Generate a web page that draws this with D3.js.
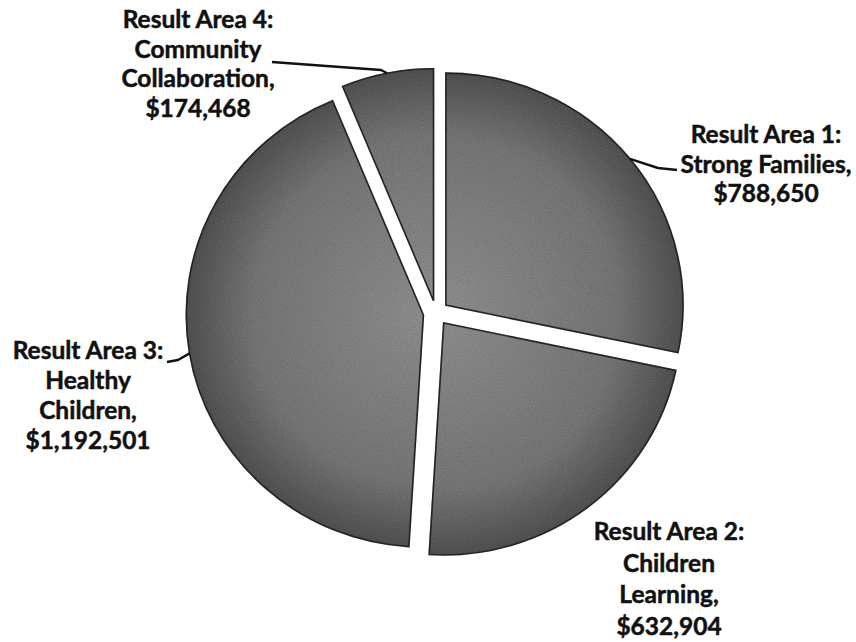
<!DOCTYPE html>
<html><head><meta charset="utf-8">
<script src="https://cdn.jsdelivr.net/npm/d3@7"></script>
<style>
html,body{margin:0;padding:0;background:#fff;}
svg{display:block;}
</style></head>
<body>
<svg id="chart" width="856" height="642"></svg>
<script>
// ---- data ----
const categories = ["Result Area 1:", "Result Area 2:", "Result Area 3:", "Result Area 4:"];
const names = [["Strong Families,"], ["Children", "Learning,"], ["Healthy", "Children,"], ["Community", "Collaboration,"]];
const values = [788650, 632904, 1192501, 174468];

// ---- layout ----
const W = 856, H = 642;
const cx = 436, cy = 313, R = 232, explode = 12.5, sx = 1.022;
const fontSize = 24.5;
// label block: [center x, first baseline y, line height]
const labelPos = [[766, 143, 29.5], [669, 540, 31.5], [88, 359, 30], [198, 28, 29.5]];

const svg = d3.select("#chart");
const defs = svg.append("defs");
const grad = defs.append("radialGradient").attr("id","g").attr("gradientUnits","userSpaceOnUse")
  .attr("cx",0).attr("cy",0).attr("r",R);
grad.append("stop").attr("offset","0%").attr("stop-color","#989898");
grad.append("stop").attr("offset","72%").attr("stop-color","#7f7f7f");
grad.append("stop").attr("offset","100%").attr("stop-color","#585858");
const f = defs.append("filter").attr("id","grain").attr("x","-10%").attr("y","-10%").attr("width","120%").attr("height","120%");
f.append("feTurbulence").attr("type","fractalNoise").attr("baseFrequency",0.9).attr("numOctaves",2).attr("seed",3).attr("result","n");
f.append("feColorMatrix").attr("in","n").attr("type","matrix")
  .attr("values","0 0 0 0 0  0 0 0 0 0  0 0 0 0 0  0 0 0 0.4 0").attr("result","a");
f.append("feComposite").attr("in","a").attr("in2","SourceGraphic").attr("operator","in").attr("result","m");
f.append("feMerge").selectAll("feMergeNode").data(["SourceGraphic","m"]).join("feMergeNode").attr("in",d=>d);

const pie = d3.pie().sort(null).value(d => d)(values);
const arc = d3.arc().innerRadius(0).outerRadius(R);

const g = svg.append("g").attr("transform", `translate(${cx},${cy}) scale(${sx},1)`);
const off = d => { const a = (d.startAngle + d.endAngle) / 2; return [explode * Math.sin(a), -explode * Math.cos(a)]; };
g.selectAll("path.slice").data(pie).join("path").attr("class","slice")
  .attr("transform", d => `translate(${off(d)})`)
  .attr("d", arc)
  .attr("fill","url(#g)")
  .attr("stroke","#2a2a2a").attr("stroke-width",1.6)
  .attr("filter","url(#grain)");

// leader lines from arc bisector points
function edgePt(d) {
  const a = (d.startAngle + d.endAngle) / 2; const o = off(d);
  return [cx + sx * (o[0] + R * Math.sin(a)), cy + o[1] - R * Math.cos(a)];
}
const leaders = [
  [[658,168],[677,170]],
  null,
  [[178,360],[167,362]],
  [[381,70],[272,62]]
];
pie.forEach((d,i) => {
  if (!leaders[i]) return;
  const pts = [edgePt(d), ...leaders[i]];
  svg.append("path").attr("d", d3.line()(pts)).attr("fill","none")
    .attr("stroke","#111").attr("stroke-width",2.4).attr("stroke-linejoin","round");
});

// labels
pie.forEach((d,i) => {
  const lines = [categories[i], ...names[i], "$" + d3.format(",")(values[i])];
  const t = svg.append("text").attr("text-anchor","middle")
    .attr("font-family","Lato, 'Open Sans', sans-serif").attr("font-weight",700)
    .attr("font-size",fontSize).attr("fill","#111")
    .attr("stroke","#111").attr("stroke-width",0.5);
  lines.forEach((l,k) => t.append("tspan").attr("x",labelPos[i][0]).attr("y",labelPos[i][1] + k*labelPos[i][2]).text(l));
});
</script>
</body></html>
